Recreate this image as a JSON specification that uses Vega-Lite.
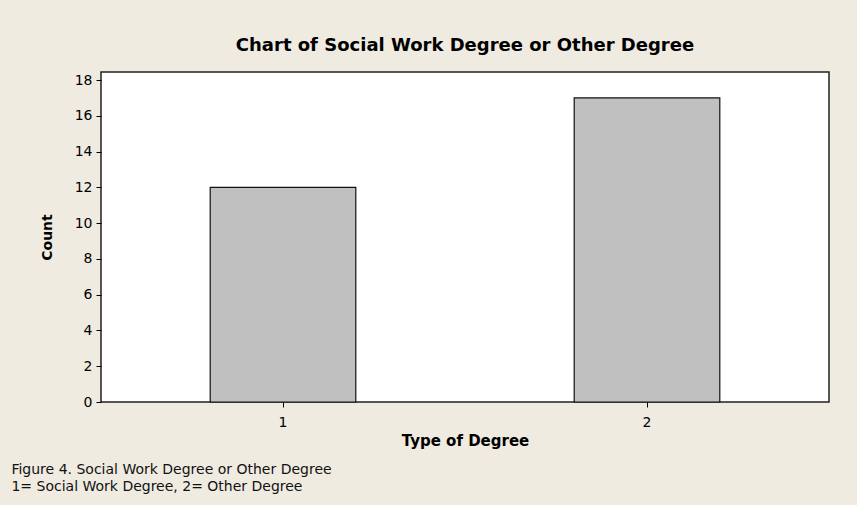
{
  "$schema": "https://vega.github.io/schema/vega-lite/v6.json",
  "autosize": {"type": "pad"},
  "padding": {"left": 11, "top": 36, "right": 27, "bottom": 13},
  "background": "#EFEBE1",
  "config": {
    "font": "DejaVu Sans",
    "view": {"stroke": "#222222", "strokeWidth": 1.5, "fill": "#FFFFFF"},
    "concat": {"spacing": 0}
  },
  "title": {
    "text": ["Figure 4. Social Work Degree or Other Degree", "1= Social Work Degree, 2= Other Degree"],
    "orient": "bottom",
    "anchor": "start",
    "frame": "bounds",
    "fontSize": 14,
    "fontWeight": "normal",
    "color": "#111111",
    "lineHeight": 17,
    "offset": 14,
    "dx": -28
  },
  "vconcat": [
    {
      "width": 728,
      "height": 330,
      "title": {
        "text": "Chart of Social Work Degree or Other Degree",
        "fontSize": 18,
        "fontWeight": "bold",
        "color": "#000000",
        "offset": 17
      },
      "data": {"values": [
        {"degree": "1", "count": 12},
        {"degree": "2", "count": 17}
      ]},
      "mark": {"type": "bar", "fill": "#C0C0C0", "stroke": "#111111", "strokeWidth": 1.2},
      "encoding": {
        "x": {
          "field": "degree", "type": "nominal",
          "scale": {"paddingInner": 0.6, "paddingOuter": 0.3},
          "axis": {"title": "Type of Degree", "labelAngle": 0, "domain": false, "tickSize": 5, "tickColor": "#000", "labelFontSize": 14, "labelColor": "#000", "titleFontSize": 15, "titleFontWeight": "bold", "titleColor": "#000", "labelPadding": 8, "titlePadding": 4}
        },
        "y": {
          "field": "count", "type": "quantitative",
          "scale": {"domain": [0, 18.45], "nice": false},
          "axis": {"title": "Count", "values": [0,2,4,6,8,10,12,14,16,18], "grid": false, "domain": false, "tickSize": 5, "tickColor": "#000", "labelFontSize": 14, "labelColor": "#000", "titleFontSize": 14, "titleFontWeight": "bold", "titleColor": "#000", "labelPadding": 4, "titlePadding": 20}
        }
      }
    }
  ]
}
